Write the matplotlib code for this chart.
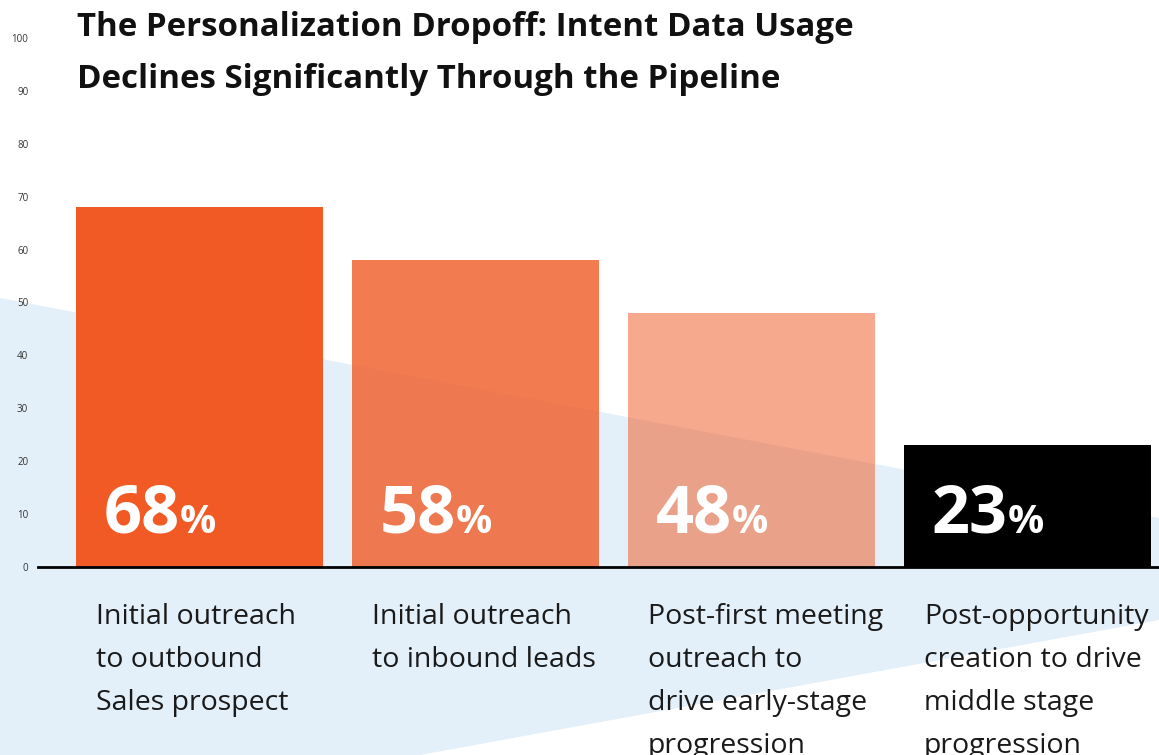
import matplotlib
matplotlib.use("Agg")
import matplotlib.pyplot as plt
from matplotlib.patches import Polygon

plt.rcParams['font.family'] = ['Open Sans', 'DejaVu Sans']

# data
title_lines = ["The Personalization Dropoff: Intent Data Usage",
               "Declines Significantly Through the Pipeline"]
categories = [
    "Initial outreach\nto outbound\nSales prospect",
    "Initial outreach\nto inbound leads",
    "Post-first meeting\noutreach to\ndrive early-stage\nprogression",
    "Post-opportunity\ncreation to drive\nmiddle stage\nprogression",
]
values = [68, 58, 48, 23]
bar_colors = [(0.945, 0.353, 0.141, 1.0), (0.945, 0.353, 0.141, 0.8),
              (0.945, 0.353, 0.141, 0.52), (0, 0, 0, 1.0)]
yticks = list(range(0, 101, 10))

W, H = 1159, 755
fig = plt.figure(figsize=(W / 100, H / 100), dpi=100)

# light blue background band (in figure pixels)
band = [(0, 298), (1159, 518), (1159, 620), (420, 755), (0, 755)]
fig.patches.append(Polygon([(x / W, 1 - y / H) for x, y in band], closed=True,
                           transform=fig.transFigure, facecolor='#e3eff9',
                           edgecolor='none', zorder=-5))

ax = fig.add_axes([38 / W, (H - 567) / H, (W - 38) / W, (567 - 38) / H])
ax.set_zorder(1)
ax.set_facecolor('none')
x = list(range(len(values)))
bw = 0.895
ax.bar(x, values, width=bw, color=bar_colors, zorder=2)
ax.set_xlim(-0.585, 3.477)
ax.set_ylim(0, 100)
ax.set_yticks(yticks)
ax.tick_params(axis='y', length=0, labelsize=7, labelcolor='#333333', pad=7)
ax.set_xticks([])
for s in ['top', 'right', 'left']:
    ax.spines[s].set_visible(False)
ax.spines['bottom'].set_linewidth(2)
ax.spines['bottom'].set_color('black')
ax.spines['bottom'].set_zorder(3)

for line, yp in zip(title_lines, [27, 80]):
    fig.text(77 / W, 1 - yp / H, line, fontsize=23.8, fontweight='bold',
             va='center', ha='left', color='#111111')

# value labels and category labels
fig.canvas.draw()
r = fig.canvas.get_renderer()
for i, v in enumerate(values):
    left = i - bw / 2 + 0.1
    t = ax.text(left, 6.5, str(v), fontsize=48, fontweight='bold', color='white',
                ha='left', va='baseline', zorder=4)
    bb = t.get_window_extent(renderer=r)
    xe = ax.transData.inverted().transform((bb.x1, 0))[0]
    ax.text(xe, 6.5, "%", fontsize=29, fontweight='bold', color='white',
            ha='left', va='baseline', zorder=4)
    ax.text(i - bw / 2 + 0.073, -6.8, categories[i], fontsize=20.5,
            color='#1a1a1a', ha='left', va='top', linespacing=1.72,
            clip_on=False)

fig.savefig("out.png", dpi=100)
